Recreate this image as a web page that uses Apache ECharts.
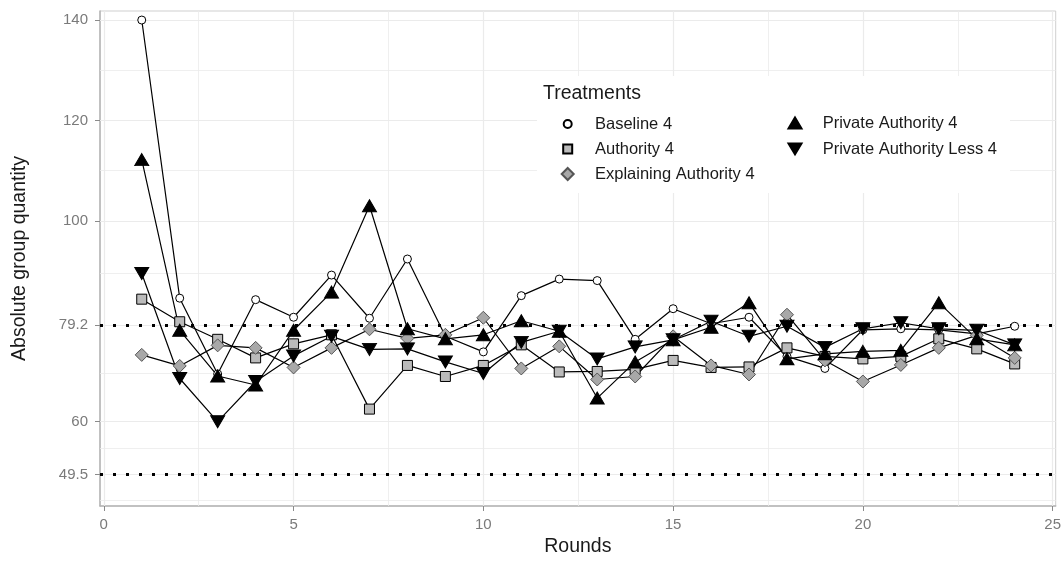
<!DOCTYPE html>
<html>
<head>
<meta charset="utf-8">
<script src="https://cdn.jsdelivr.net/npm/echarts@6/dist/echarts.min.js"></script>
<style>
  html, body { margin: 0; padding: 0; background: #fff; }
  #chart { width: 1064px; height: 562px; }
</style>
</head>
<body>
<div id="chart"></div>
<script>
const rounds = [1, 2, 3, 4, 5, 6, 7, 8, 9, 10, 11, 12, 13, 14, 15, 16, 17, 18, 19, 20, 21, 22, 23, 24];

const baseline4 = [140, 84.6, 69.5, 84.3, 80.8, 89.2, 80.6, 92.4, 77.0, 73.9, 85.1, 88.4,
    88.1, 76.4, 82.5, 79.5, 80.8, 73.0, 70.6, 78.3, 78.5, 78.3, 77.5, 79.0];
const authority4 = [84.4, 79.9, 76.4, 72.7, 75.5, 77.3, 62.5, 71.2, 69.0, 71.2, 75.3, 69.9,
    70.0, 70.4, 72.2, 70.8, 70.9, 74.7, 73.0, 72.5, 73.0, 76.5, 74.5, 71.5];
const explaining4 = [73.3, 71.1, 75.2, 74.7, 70.8, 74.7, 78.4, 76.6, 77.3, 80.7, 70.6, 75.0,
    68.4, 69.0, 77.0, 71.2, 69.4, 81.3, 72.2, 68.0, 71.3, 74.7, 77.2, 72.7];
const privateAuth4 = [112.2, 78.2, 69.1, 67.3, 78.2, 85.8, 103.0, 78.5, 76.5, 77.3, 80.1, 78.0,
    64.7, 71.9, 76.3, 78.8, 83.7, 72.5, 73.5, 74.0, 74.2, 83.7, 76.5, 75.3];
const privateLess4 = [89.5, 68.6, 60.0, 68.0, 73.1, 77.0, 74.4, 74.5, 71.9, 69.6, 75.8, 78.0,
    72.5, 74.9, 76.3, 80.0, 77.0, 79.0, 74.8, 78.5, 79.7, 78.5, 78.2, 75.3];

const yTicks = [49.5, 60, 79.2, 100, 120, 140];
const yMinor = [44.25, 54.75, 69.6, 89.6, 110, 130];
const xTicks = [0, 5, 10, 15, 20, 25];
const xMinor = [2.5, 7.5, 12.5, 17.5, 22.5];
const refLines = [79.2, 49.5];

const FONT = '"Liberation Sans", Arial, sans-serif';
const downTri = 'path://M0,0 L12,0 L6,10 Z';

function pairs(vals) {
    return rounds.map((r, i) => [r, vals[i]]);
}

function treatment(name, vals, symbol, size, fill, border) {
    return {
        name: name,
        type: 'line',
        data: pairs(vals),
        symbol: symbol,
        symbolSize: size,
        showAllSymbol: true,
        lineStyle: { color: '#000', width: 1.2 },
        itemStyle: { color: fill, borderColor: border, borderWidth: 1 },
        emphasis: { disabled: true },
        z: 4
    };
}

function legendItem(name, icon, w, h, cx, cy, textX) {
    const left = cx - w / 2;
    return {
        data: [{ name: name, icon: icon }],
        left: left,
        top: cy - 10,
        orient: 'vertical',
        padding: 0,
        itemWidth: w,
        itemHeight: h,
        selectedMode: false,
        z: 10,
        textStyle: {
            fontFamily: FONT, fontSize: 16.5, color: '#1a1a1a', lineHeight: 20,
            padding: [0, 0, 0, textX - left - w - 5]
        }
    };
}

const gridLines = [
    ...yTicks.map(v => ({ yAxis: v, lineStyle: { width: 1.2 } })),
    ...yMinor.map(v => ({ yAxis: v, lineStyle: { width: 0.8 } })),
    ...xTicks.map(v => ({ xAxis: v, lineStyle: { width: 1.2 } })),
    ...xMinor.map(v => ({ xAxis: v, lineStyle: { width: 0.8 } }))
];

const chart = echarts.init(document.getElementById('chart'));

chart.setOption({
    animation: false,
    backgroundColor: '#fff',
    grid: {
        left: 100, right: 3, top: 11, bottom: 54,
        show: true, borderColor: '#cfcfcf', borderWidth: 1, backgroundColor: 'transparent'
    },
    xAxis: {
        type: 'value',
        min: -0.1,
        max: 25.08,
        name: 'Rounds',
        nameLocation: 'middle',
        nameGap: 31,
        nameTextStyle: { fontFamily: FONT, fontSize: 19.5, color: '#1a1a1a' },
        axisLine: { show: true, onZero: false, lineStyle: { color: '#b5b5b5', width: 1.5 } },
        axisTick: { show: true, length: 5, customValues: xTicks, lineStyle: { color: '#8a8a8a' } },
        axisLabel: { customValues: xTicks, margin: 11, fontFamily: FONT, fontSize: 15, color: '#7a7a7a' },
        splitLine: { show: false }
    },
    yAxis: {
        type: 'value',
        min: 43.2,
        max: 141.8,
        name: 'Absolute group quantity',
        nameLocation: 'middle',
        nameGap: 70,
        nameTextStyle: { fontFamily: FONT, fontSize: 19.5, color: '#1a1a1a' },
        axisLine: { show: true, onZero: false, lineStyle: { color: '#b5b5b5', width: 1.5 } },
        axisTick: { show: true, length: 5, customValues: yTicks, lineStyle: { color: '#8a8a8a' } },
        axisLabel: { customValues: yTicks, margin: 12, fontFamily: FONT, fontSize: 15, color: '#7a7a7a' },
        splitLine: { show: false }
    },
    legend: [
        legendItem('Baseline 4', 'circle', 8, 8, 566.7, 124, 594),
        legendItem('Authority 4', 'rect', 9, 9, 566.7, 149, 594),
        legendItem('Explaining Authority 4', 'diamond', 12, 12, 566.7, 174, 594),
        legendItem('Private Authority 4', 'triangle', 13, 11, 794, 123, 821.7),
        legendItem('Private Authority Less 4', downTri, 13, 11, 794, 149, 821.7)
    ],
    graphic: [
        { type: 'rect', x: 537, y: 76, shape: { width: 473, height: 117 }, style: { fill: '#fff' }, z: 8, silent: true },
        { type: 'text', x: 543, y: 94, style: { text: 'Treatments', font: '19.5px ' + FONT, fill: '#1a1a1a', verticalAlign: 'middle' }, z: 9, silent: true }
    ],
    series: [
        {
            name: 'grid', type: 'line', data: [], z: 1, silent: true,
            markLine: {
                silent: true, symbol: 'none', z: 1, animation: false,
                label: { show: false },
                lineStyle: { color: '#ebebeb', type: 'solid' },
                emphasis: { disabled: true },
                data: gridLines
            }
        },
        {
            name: 'reference', type: 'line', data: [], z: 3, silent: true,
            markLine: {
                silent: true, symbol: 'none', z: 3, animation: false,
                label: { show: false },
                lineStyle: { color: '#000', width: 3, type: [3, 10], cap: 'butt' },
                emphasis: { disabled: true },
                data: refLines.map(v => ({ yAxis: v }))
            }
        },
        treatment('Baseline 4', baseline4, 'circle', 8, '#fff', '#000'),
        treatment('Authority 4', authority4, 'rect', 10, '#bbbbbb', '#000'),
        treatment('Explaining Authority 4', explaining4, 'diamond', 13, '#a8a8a8', '#555'),
        treatment('Private Authority 4', privateAuth4, 'triangle', [14, 12], '#000', '#000'),
        treatment('Private Authority Less 4', privateLess4, downTri, [14, 12], '#000', '#000')
    ]
});
</script>
</body>
</html>
